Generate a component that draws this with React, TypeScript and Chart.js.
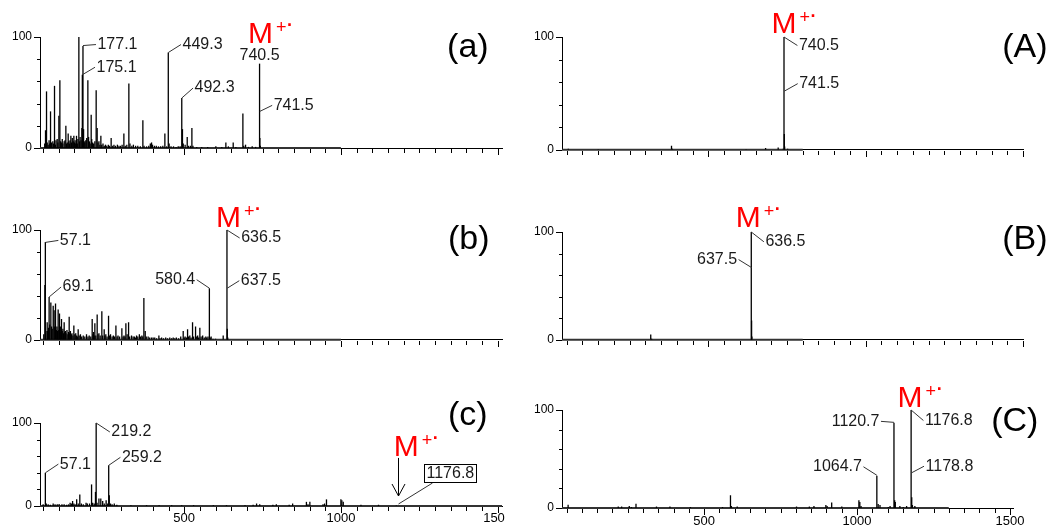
import React, { useEffect, useRef } from 'react';
import { Chart, registerables } from 'chart.js';

Chart.register(...registerables);

const FONT = '"Liberation Sans", Arial, Helvetica, sans-serif';
Chart.defaults.font.family = FONT;

// ---------------- data ----------------
const X_TICK_VALUES = [50, 100, 150, 200, 250, 300, 350, 400, 450, 500, 550, 600, 650, 700, 750, 800, 850, 900, 950, 1000, 1050, 1100, 1150, 1200, 1250, 1300, 1350, 1400, 1450, 1500];
const X_TICK_LABELS = [500, 1000, 1500];
const Y_TICK_VALUES = [0, 20, 40, 60, 80, 100];
const Y_TICK_LABELS = [0, 100];

// [m/z, relative intensity %]
const PEAKS_a: [number, number][] = [
  [55, 4], [57.6, 16], [60.8, 51], [63, 5], [66, 3], [69, 7], [71, 4], [73.6, 33], [77, 5], [81, 6], [83, 4], [86.3, 56], [89, 3], [91, 7], [94.8, 8], [97, 5],
  [100.2, 29], [103.4, 61], [106, 6], [108, 5], [111, 8], [113, 4], [117, 6], [120, 7], [122.5, 20], [125, 4], [127, 5], [129.9, 13], [132, 6], [134, 4], [136, 7],
  [138.5, 11], [141, 5], [143, 9], [146, 6], [148, 11], [150, 5], [152, 7], [154, 4], [156.5, 11], [159, 4], [161, 8], [164, 100], [166, 6], [168, 10], [171, 7],
  [173.6, 18], [175.1, 66], [177.1, 92], [179, 17], [181, 6], [183, 5], [186, 7], [189, 9], [192.7, 61], [195, 10], [198, 6], [200, 4], [203.3, 30], [205, 8],
  [208, 5], [211, 4], [215, 6], [219.2, 52], [222.4, 18], [225, 5], [228, 6], [231, 3], [234.2, 11], [237, 3], [241, 4], [245, 2], [249, 3], [253, 2], [258, 3],
  [262, 2], [267, 9], [272, 2], [276, 3], [281, 2], [287, 3], [292, 2], [297, 2], [302, 3], [307.6, 13], [312, 2], [317, 3], [323.5, 58], [327, 4], [333, 2],
  [338, 3], [345, 2], [352, 2], [360, 1.5], [368.2, 25], [372, 2], [380, 1.5], [387, 2], [392, 4], [395.9, 5], [399, 3], [405, 2], [411, 2], [418, 1.5],
  [425, 1.5], [432, 2], [438.4, 13], [444, 1.5], [449.3, 86], [452, 4], [458, 1.5], [466, 1.5], [474, 1], [481, 1.5], [487, 1.5], [492.3, 45], [494.5, 17],
  [497, 4], [503, 3], [509.7, 10], [514, 2], [520, 2], [524.6, 18], [528, 2], [540, 1], [556, 1], [575, 1], [601, 1.5], [620, 1], [633, 5], [641, 1.5],
  [656.4, 5], [665, 1], [687.3, 31], [690, 2], [695.8, 3], [705, 1], [717, 1.5], [728, 1], [740.5, 76], [741.5, 9], [743, 2],
];

const PEAKS_b: [number, number][] = [
  [52, 5], [55.5, 50], [57.1, 89], [59, 8], [62.9, 16], [64, 8], [67, 11], [69.1, 39], [71, 14], [74.6, 34], [77, 12], [79, 10], [82.1, 31], [85, 27], [87, 12],
  [89.5, 33], [92, 9], [94, 12], [96, 8], [97.9, 27.5], [100, 9], [102.2, 24], [104, 7], [106, 12], [108.6, 19], [111, 8], [113, 10], [115, 6], [117.1, 16],
  [119, 7], [121, 8], [123, 6], [126, 9], [129, 5], [131, 7], [133.1, 21], [135, 6], [137, 8], [140, 5], [142, 6], [145, 4], [148, 13], [151, 5], [154, 6],
  [157, 4], [159, 3], [161.8, 9.5], [165, 4], [169, 5], [173, 3], [178, 4], [183, 3], [188.4, 5], [193, 3], [197, 4], [202, 3], [206.5, 19], [209, 5], [211, 7],
  [213, 4], [215, 15], [218, 4], [222.4, 23], [225, 5], [228, 6], [232, 4], [237.3, 26], [240, 4], [244.8, 9.5], [247, 4], [250, 5], [254, 3], [258.7, 22],
  [262, 4], [265, 5], [270, 3], [274, 4], [278, 3], [282.2, 13], [286, 3], [289, 4], [294, 3], [301.2, 10.5], [305, 3], [308, 4], [311, 3], [314, 15], [318, 5],
  [322.6, 16], [326, 3], [332, 4], [337, 3], [341, 3], [345, 2], [348, 4], [352, 3], [357, 5], [361, 3], [365, 4], [368, 3], [371.4, 38], [375.7, 8], [379, 3],
  [385, 3], [390, 2], [396, 2], [401, 2], [406, 2], [412, 1.5], [419.3, 4], [423, 1.5], [428, 2], [434, 1.5], [441, 2], [447, 1.5], [454, 2], [460, 1.5],
  [465, 2], [470, 1.5], [475, 2], [482, 1.5], [489, 3], [496.9, 8], [500, 2], [503, 3], [507, 2], [510.8, 9.5], [514, 3], [518, 4], [522, 2], [526.7, 16],
  [530, 3], [536.3, 12], [540, 3], [543, 4], [546, 2], [550, 11], [554, 3], [559, 4], [564, 2], [569, 3], [572, 2], [576, 3], [580.4, 47], [583, 2], [586, 3],
  [592, 1], [600, 1], [624.5, 4], [636.5, 100], [637.5, 10], [639, 2],
];

const PEAKS_c: [number, number][] = [
  [50, 2], [57.1, 40], [60, 3], [66, 2], [73, 1.5], [82, 3], [88, 2], [95, 2], [101, 2.5], [110, 2], [117, 2], [125, 1.5], [131, 2], [136, 4], [140, 3],
  [144, 6], [148, 3], [152, 2], [157, 8], [162, 3], [167, 14], [172, 3], [178, 2], [187, 4], [191, 3], [198, 3], [204.5, 26], [208, 4], [213, 3], [217, 17],
  [219.2, 100], [222, 4], [228, 9], [234, 9], [240, 6], [245, 3], [251, 7], [256, 3], [259.2, 49], [261, 13], [265, 3], [270, 2], [277, 3], [285, 1.5],
  [330, 1], [380, 1], [420, 1], [460, 1], [492, 1], [530, 1], [593, 1], [635, 1], [694, 1], [720, 1.5], [731, 3], [741, 2], [783, 1.5], [794, 2], [835, 1.5],
  [846, 3], [890, 5], [895, 2], [901, 5], [943, 2], [948, 3], [954, 8], [1000, 8], [1003, 7], [1007.5, 5], [1064, 1.5], [1120, 1.5], [1176.8, 0.6],
];

const PEAKS_A: [number, number][] = [
  [55, 1], [150, 0.5], [383, 3.5], [386, 1], [620, 0.5], [682, 1.5], [722, 2], [738, 1], [740.5, 100], [741.5, 14], [742.5, 3], [752, 1],
];

const PEAKS_B: [number, number][] = [
  [317, 5], [320, 1], [636.5, 100], [637.5, 18], [638.5, 3],
];

const PEAKS_C: [number, number][] = [
  [55, 3.4], [219, 1.5], [230, 1.5], [255, 2], [262, 1], [277, 4.4], [344, 1.5], [388, 1.5], [455, 1], [560, 1], [586, 13], [589, 2], [608, 1.5], [802, 1.5],
  [844, 1.5], [859, 2], [898, 3], [902, 2], [917, 5.5], [950, 1.5], [1006, 8], [1009, 6], [1013, 2], [1064.7, 33], [1069, 4], [1075, 3], [1102, 1], [1108, 2],
  [1120.7, 87], [1123, 8], [1125, 6], [1140, 2], [1151, 1], [1162, 2], [1176.8, 100], [1178.8, 11], [1181, 3], [1189, 2],
];

// recorded m/z range of each spectrum (drawn as the baseline trace)
const RANGE_a = [40, 1000];
const RANGE_b = [40, 1000];
const RANGE_c = [40, 1514];
const RANGE_A = [35, 800];
const RANGE_B = [35, 800];
const RANGE_C = [35, 1300];

// ---------------- layout / annotation config ----------------
type Lbl = { text: string; at: number; dx: number; dy: number; side: 'l' | 'r' | 'c' };
type Panel = {
  key: string;
  peaks: [number, number][];
  range: number[];
  box: { left: number; top: number; width: number; height: number };
  yW: number; xH: number; padTop: number; padRight: number; xPad: number;
  xMin: number; xMax: number;
  showXLabels: boolean;
  labels: Lbl[];
  mol: { mz: number; at: number; dx: number };
  tag: { text: string; mz: number; at: number };
  arrowBox?: { mz: number; text: string };
};

const PANELS: Panel[] = [
  {
    key: 'a', peaks: PEAKS_a, range: RANGE_a,
    box: { left: 0, top: 0, width: 505, height: 165 }, yW: 40, xH: 17, padTop: 37, padRight: 3, xPad: 5,
    xMin: 40, xMax: 1514, showXLabels: false,
    labels: [
      { text: '177.1', at: 92.3, dx: 13, dy: -1, side: 'r' },
      { text: '175.1', at: 66, dx: 12.7, dy: -7.5, side: 'r' },
      { text: '449.3', at: 86, dx: 12.7, dy: -8, side: 'r' },
      { text: '492.3', at: 45, dx: 11.3, dy: -10, side: 'r' },
      { text: '740.5', at: 76, dx: 0, dy: -8.5, side: 'c' },
      { text: '741.5', at: 33, dx: 12.3, dy: -6, side: 'r' },
    ],
    mol: { mz: 740.5, at: 94.6, dx: 1 },
    tag: { text: '(a)', mz: 1405, at: 90.3 },
  },
  {
    key: 'b', peaks: PEAKS_b, range: RANGE_b,
    box: { left: 0, top: 165, width: 505, height: 190 }, yW: 40, xH: 13, padTop: 65, padRight: 3, xPad: 5,
    xMin: 40, xMax: 1514, showXLabels: false,
    labels: [
      { text: '57.1', at: 88.7, dx: 13, dy: -2, side: 'r' },
      { text: '69.1', at: 39, dx: 12, dy: -10, side: 'r' },
      { text: '580.4', at: 47, dx: -12.7, dy: -8.5, side: 'l' },
      { text: '636.5', at: 100, dx: 12.7, dy: 8, side: 'r' },
      { text: '637.5', at: 47, dx: 12, dy: -7.5, side: 'r' },
    ],
    mol: { mz: 636.5, at: 103, dx: 1.5 },
    tag: { text: '(b)', mz: 1408, at: 91 },
  },
  {
    key: 'c', peaks: PEAKS_c, range: RANGE_c,
    box: { left: 0, top: 355, width: 505, height: 174 }, yW: 40, xH: 23, padTop: 68, padRight: 3, xPad: 5,
    xMin: 40, xMax: 1514, showXLabels: true,
    labels: [
      { text: '57.1', at: 40, dx: 13, dy: -8.7, side: 'r' },
      { text: '219.2', at: 100, dx: 13.7, dy: 9, side: 'r' },
      { text: '259.2', at: 49, dx: 11.7, dy: -8, side: 'r' },
    ],
    mol: { mz: 1176.8, at: 60.3, dx: 10 },
    tag: { text: '(c)', mz: 1405, at: 108.9 },
    arrowBox: { mz: 1176.8, text: '1176.8' },
  },
  {
    key: 'A', peaks: PEAKS_A, range: RANGE_A,
    box: { left: 505, top: 0, width: 550, height: 165 }, yW: 57, xH: 15, padTop: 37, padRight: 32, xPad: 5,
    xMin: 35, xMax: 1500, showXLabels: false,
    labels: [
      { text: '740.5', at: 100, dx: 13.4, dy: 8.5, side: 'r' },
      { text: '741.5', at: 52, dx: 13.4, dy: -7.5, side: 'r' },
    ],
    mol: { mz: 740.5, at: 103.5, dx: 0 },
    tag: { text: '(A)', mz: 1506, at: 90.5 },
  },
  {
    key: 'B', peaks: PEAKS_B, range: RANGE_B,
    box: { left: 505, top: 165, width: 550, height: 190 }, yW: 57, xH: 11, padTop: 67, padRight: 32, xPad: 5,
    xMin: 35, xMax: 1500, showXLabels: false,
    labels: [
      { text: '636.5', at: 100, dx: 12.6, dy: 9.8, side: 'r' },
      { text: '637.5', at: 67, dx: -13, dy: -8, side: 'l' },
    ],
    mol: { mz: 636.5, at: 105, dx: -3 },
    tag: { text: '(B)', mz: 1506, at: 93.1 },
  },
  {
    key: 'C', peaks: PEAKS_C, range: RANGE_C,
    box: { left: 505, top: 355, width: 550, height: 174 }, yW: 57, xH: 21, padTop: 55, padRight: 42, xPad: 6,
    xMin: 35, xMax: 1510, showXLabels: true,
    labels: [
      { text: '1120.7', at: 87.4, dx: -13, dy: -1, side: 'l' },
      { text: '1176.8', at: 100, dx: 12.3, dy: 10.5, side: 'r' },
      { text: '1064.7', at: 33.4, dx: -13.4, dy: -8.5, side: 'l' },
      { text: '1178.8', at: 36, dx: 12.3, dy: -6.5, side: 'r' },
    ],
    mol: { mz: 1176.8, at: 103.4, dx: -1 },
    tag: { text: '(C)', mz: 1516, at: 87.7 },
  },
];

// ---------------- plugin ----------------
function seg(ctx: CanvasRenderingContext2D, x0: number, y0: number, x1: number, y1: number) {
  ctx.beginPath();
  ctx.moveTo(x0, y0);
  ctx.lineTo(x1, y1);
  ctx.stroke();
}

const annoPlugin = {
  id: 'specAnno',
  afterDraw(chart: any, _args: any, opts: any) {
    const p: Panel = opts.panel;
    if (!p) return;
    const ctx: CanvasRenderingContext2D = chart.ctx;
    const xs = chart.scales.x;
    const ys = chart.scales.y;
    const area = chart.chartArea;
    ctx.save();

    // tick marks
    ctx.strokeStyle = '#000';
    ctx.lineWidth = 1;
    const yb = Math.round(area.bottom) + 1;
    xs.ticks.forEach((t: any) => {
      const px = Math.round(xs.getPixelForValue(t.value)) + 0.5;
      const len = t.value % 500 === 0 ? 6 : 4;
      seg(ctx, px, yb, px, yb + len);
    });
    const xl = Math.round(area.left);
    ys.ticks.forEach((t: any) => {
      const py = Math.round(ys.getPixelForValue(t.value)) + 0.5;
      const len = t.value % 100 === 0 ? 6 : 3;
      seg(ctx, xl - len, py, xl, py);
    });

    // peak labels with leaders
    ctx.font = `16px ${FONT}`;
    ctx.textBaseline = 'middle';
    p.labels.forEach((l) => {
      const mz = parseFloat(l.text);
      const x0 = xs.getPixelForValue(mz);
      const y0 = ys.getPixelForValue(l.at);
      const x1 = x0 + l.dx;
      const y1 = y0 + l.dy;
      ctx.strokeStyle = '#333';
      ctx.fillStyle = '#1a1a1a';
      if (l.side !== 'c') seg(ctx, x0, y0, x1, y1);
      if (l.side === 'r') {
        ctx.textAlign = 'left';
        ctx.fillText(l.text, x1 + 1.5, y1);
      } else if (l.side === 'l') {
        ctx.textAlign = 'right';
        ctx.fillText(l.text, x1 - 1.5, y1);
      } else {
        ctx.textAlign = 'center';
        ctx.fillText(l.text, x1, y1);
      }
    });

    // molecular ion marker
    const mx = xs.getPixelForValue(p.mol.mz) + p.mol.dx;
    const mb = ys.getPixelForValue(p.mol.at);
    ctx.fillStyle = '#ff0000';
    ctx.font = `30px ${FONT}`;
    ctx.textAlign = 'center';
    ctx.textBaseline = 'alphabetic';
    ctx.fillText('M', mx, mb);
    const mw = ctx.measureText('M').width;
    const right = mx + mw / 2;
    ctx.font = `18px ${FONT}`;
    ctx.textAlign = 'left';
    ctx.textBaseline = 'middle';
    ctx.fillText('+', right + 3, mb - 15);
    const pw = ctx.measureText('+').width;
    ctx.font = `bold 18px ${FONT}`;
    ctx.fillText('·', right + 3 + pw + 0.5, mb - 16.5);

    // arrow + boxed label
    if (p.arrowBox) {
      ctx.strokeStyle = '#000';
      ctx.fillStyle = '#1a1a1a';
      const ax = Math.round(xs.getPixelForValue(p.arrowBox.mz) + 2) + 0.5;
      const y0 = ys.getPixelForValue(0);
      seg(ctx, ax, mb + 2, ax, y0 - 10);
      seg(ctx, ax - 6.5, y0 - 22, ax, y0 - 10);
      seg(ctx, ax + 6.5, y0 - 22, ax, y0 - 10);
      ctx.strokeStyle = '#333';
      seg(ctx, ax, y0 - 2, ax + 34, y0 - 23);
      ctx.font = `16px ${FONT}`;
      const tw = ctx.measureText(p.arrowBox.text).width;
      const bx = Math.round(ax + 25) + 0.5;
      const by = Math.round(y0 - 42) + 0.5;
      ctx.strokeStyle = '#000';
      ctx.strokeRect(bx, by, Math.round(tw + 4), 18);
      ctx.textAlign = 'left';
      ctx.textBaseline = 'middle';
      ctx.fillText(p.arrowBox.text, bx + 2, by + 9.5);
    }

    // panel tag
    ctx.fillStyle = '#000';
    ctx.font = `34px ${FONT}`;
    ctx.textAlign = 'center';
    ctx.textBaseline = 'middle';
    ctx.fillText(p.tag.text, xs.getPixelForValue(p.tag.mz), ys.getPixelForValue(p.tag.at));

    ctx.restore();
  },
};

// ---------------- components ----------------
function SpectrumPanel({ p }: { p: Panel }) {
  const ref = useRef<HTMLCanvasElement>(null);
  useEffect(() => {
    const canvas = ref.current;
    if (!canvas) return;
    const chart = new Chart(canvas, {
      type: 'bar',
      data: {
        datasets: [
          {
            type: 'bar',
            data: p.peaks.map(([x, y]) => ({ x, y })),
            backgroundColor: '#000',
            borderWidth: 0,
            barThickness: 1.3,
            inflateAmount: 0,
            order: 1,
          } as any,
          {
            type: 'line',
            data: p.range.map((x) => ({ x, y: 0 })),
            borderColor: '#333',
            borderWidth: 2,
            pointRadius: 0,
            clip: false,
            order: 2,
          } as any,
        ],
      },
      options: {
        responsive: false,
        animation: false,
        devicePixelRatio: 1,
        layout: { padding: { top: p.padTop, right: p.padRight, left: 0, bottom: 0 } },
        plugins: {
          legend: { display: false },
          tooltip: { enabled: false },
          specAnno: { panel: p },
        } as any,
        scales: {
          x: {
            type: 'linear',
            min: p.xMin,
            max: p.xMax,
            offset: false,
            grid: { display: false, drawTicks: false, offset: false },
            border: { display: true, color: '#000', width: 1 },
            ticks: {
              autoSkip: false,
              maxRotation: 0,
              minRotation: 0,
              padding: p.xPad,
              color: '#000',
              font: { size: 13, family: FONT },
              callback: (v: any) => (p.showXLabels && X_TICK_LABELS.includes(Number(v)) ? String(v) : ''),
            },
            afterBuildTicks: (s: any) => {
              s.ticks = X_TICK_VALUES.filter((v) => v >= s.min && v <= s.max).map((v) => ({ value: v }));
            },
            afterFit: (s: any) => {
              s.height = p.xH;
              s.paddingLeft = 0;
              s.paddingRight = 0;
            },
          },
          y: {
            type: 'linear',
            min: 0,
            max: 100,
            grid: { display: false, drawTicks: false },
            border: { display: true, color: '#000', width: 1 },
            ticks: {
              autoSkip: false,
              padding: 8,
              color: '#000',
              font: { size: 12, family: FONT },
              callback: (v: any) => (Y_TICK_LABELS.includes(Number(v)) ? String(v) : ''),
            },
            afterBuildTicks: (s: any) => {
              s.ticks = Y_TICK_VALUES.map((v) => ({ value: v }));
            },
            afterFit: (s: any) => {
              s.width = p.yW;
            },
          },
        } as any,
      },
      plugins: [annoPlugin as any],
    });
    return () => chart.destroy();
  }, [p]);
  return (
    <canvas
      ref={ref}
      width={p.box.width}
      height={p.box.height}
      style={{
        position: 'absolute',
        left: p.box.left,
        top: p.box.top,
        width: p.box.width,
        height: p.box.height,
      }}
    />
  );
}

export default function App() {
  return (
    <div
      style={{
        position: 'absolute',
        left: 0,
        top: 0,
        width: 1055,
        height: 529,
        background: '#fff',
        overflow: 'hidden',
      }}
    >
      {PANELS.map((p) => (
        <SpectrumPanel key={p.key} p={p} />
      ))}
    </div>
  );
}
